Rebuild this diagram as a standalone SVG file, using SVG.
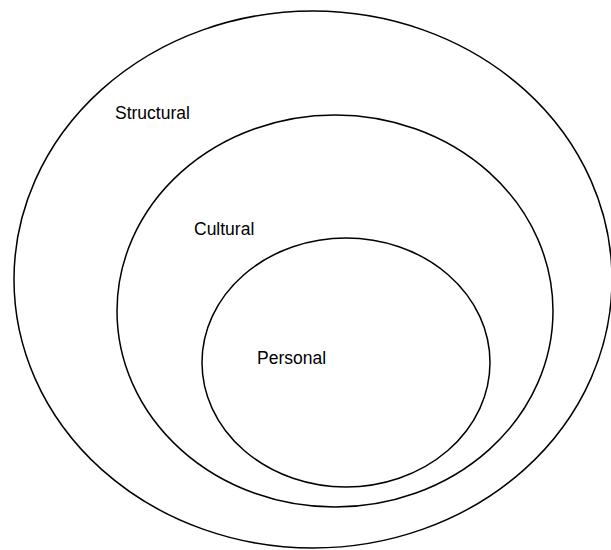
<svg xmlns="http://www.w3.org/2000/svg" width="611" height="550" viewBox="0 0 611 550">
<style>
.ring{fill:none;stroke:#000;stroke-width:1.5}
.lbl{font-family:"Liberation Sans",Arial,sans-serif;font-size:17.5px;fill:#000}
</style>
<rect width="611" height="550" fill="#fff"/>
<g id="structural"><ellipse class="ring" cx="313" cy="279.5" rx="299" ry="268.5"/><text class="lbl" x="115" y="119">Structural</text></g>
<g id="cultural"><ellipse class="ring" cx="335" cy="311" rx="218" ry="196"/><text class="lbl" x="194" y="235">Cultural</text></g>
<g id="personal"><ellipse class="ring" cx="346" cy="362.5" rx="144" ry="124.5"/><text class="lbl" x="257" y="364">Personal</text></g>
<g id="connectors"/>
</svg>
